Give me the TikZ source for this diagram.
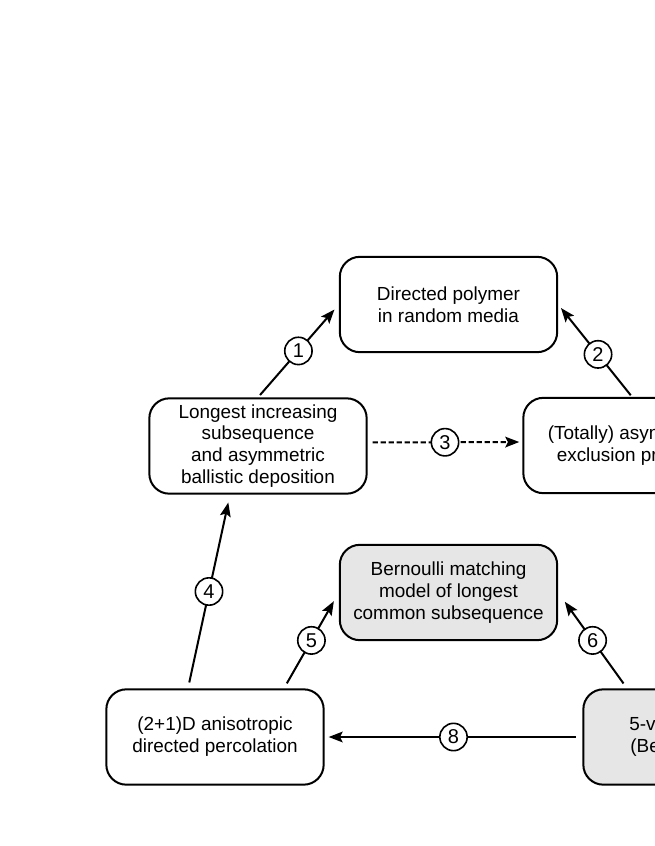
\documentclass[tikz,border=0pt]{standalone}
\usepackage{fontspec}
\setmainfont{Liberation Sans}
\usetikzlibrary{arrows.meta,calc}
\definecolor{boxgray}{HTML}{E6E6E6}
\begin{document}
\begin{tikzpicture}[x=0.75pt,y=-0.75pt,
 box/.style={draw, rounded corners=15pt, line width=1.5pt, minimum width=163pt, minimum height=71.5pt, align=center, font=\fontsize{14.2pt}{16.4pt}\selectfont, inner sep=0pt},
 graybox/.style={box, fill=boxgray},
 conn/.style={line width=1.5pt, -{Stealth[length=10.5pt,width=8pt,inset=2pt]}},
 lab/.style={circle, draw, solid, fill=white, line width=1.2pt, minimum size=20.5pt, inner sep=0pt, font=\fontsize{15pt}{15pt}\selectfont}]
\useasboundingbox (0,0) rectangle (654,846);

\node[box] (poly) at (448.5,304.5) {Directed polymer\\in random media};
\node[box] (lis) at (258,446) {Longest increasing\\subsequence\\and asymmetric\\ballistic deposition};
\node[box] (tasep) at (632,445.5) {(Totally) asymmetric\\exclusion process};
\node[graybox] (bern) at (448.5,592.5) {Bernoulli matching\\model of longest\\common subsequence};
\node[box] (perc) at (215,737) {(2+1)D anisotropic\\directed percolation};
\node[graybox] (fivev) at (692,737) {5-vertex model\\(Bethe ansatz)};

\draw[conn, shorten <=2.3pt, shorten >=5pt] (lis.north) -- node[lab] {1} (poly.west);
\draw[conn, shorten <=1.5pt, shorten >=3.4pt] (tasep.north) -- node[lab, pos=0.46] {2} (poly.east);
\draw[conn, dash pattern=on 4pt off 2pt, shorten <=3.7pt, shorten >=2.3pt]
  ($(lis.east)+(0,-3.5)$) -- node[lab] {3} ($(tasep.west)+(0,-3.5)$);
\draw[conn, shorten <=4.5pt, shorten >=6pt] ($(perc.north)+(-27,0)$) -- node[lab] {4} ($(lis.south)+(-28,0)$);
\draw[conn, shorten <=4.3pt, shorten >=7.5pt] ($(perc.north)+(69,0)$) -- node[lab] {5} (bern.west);
\draw[conn, shorten <=4.5pt, shorten >=8.5pt] ($(fivev.north)+(-65,0)$) -- node[lab] {6} (bern.east);
\draw[conn, shorten <=5pt, shorten >=3pt] (fivev.west) -- node[lab] {8} (perc.east);
\end{tikzpicture}
\end{document}
